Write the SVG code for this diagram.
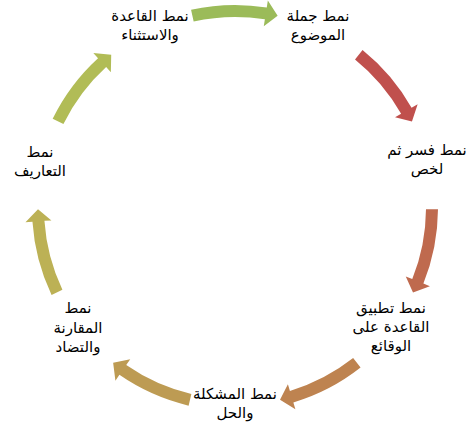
<svg xmlns="http://www.w3.org/2000/svg" xmlns:xlink="http://www.w3.org/1999/xlink" width="470" height="435" viewBox="0 0 470 435">
<style>
.t{font-family:"DejaVu Sans","Liberation Sans",sans-serif;font-size:15px;fill:#000;text-anchor:middle}
</style>
<defs>
<path id="arr" d="M191.06,9.81 A203,203 0 0 1 266.76,7.50 L267.85,0.59 L277.64,15.67 L263.78,26.27 L264.88,19.35 A191,191 0 0 0 193.66,21.53 Z"/>
</defs>
<rect width="470" height="435" fill="#fff"/>
<g id="connectors">
<use xlink:href="#arr" fill="#C0504D" transform="rotate(51.43 235 208)"/>
<use xlink:href="#arr" fill="#BF6A4E" transform="rotate(102.86 235 208)"/>
<use xlink:href="#arr" fill="#BE8350" transform="rotate(154.29 235 208)"/>
<use xlink:href="#arr" fill="#BD9B53" transform="rotate(205.71 235 208)"/>
<use xlink:href="#arr" fill="#BCB155" transform="rotate(257.14 235 208)"/>
<use xlink:href="#arr" fill="#B1BC56" transform="rotate(308.57 235 208)"/>
<use xlink:href="#arr" fill="#9BBB59"/>
</g>
<g id="node1"><text class="t"><tspan x="318" y="21">نمط جملة</tspan><tspan x="318" y="40">الموضوع</tspan></text></g>
<g id="node2"><text class="t"><tspan x="427" y="155">نمط فسر ثم</tspan><tspan x="427" y="174">لخص</tspan></text></g>
<g id="node3"><text class="t"><tspan x="391" y="313">نمط تطبيق</tspan><tspan x="391" y="332">القاعدة على</tspan><tspan x="391" y="351">الوقائع</tspan></text></g>
<g id="node4"><text class="t"><tspan x="235" y="399">نمط المشكلة</tspan><tspan x="235" y="418">والحل</tspan></text></g>
<g id="node5"><text class="t"><tspan x="78" y="313">نمط</tspan><tspan x="78" y="333">المقارنة</tspan><tspan x="78" y="352">والتضاد</tspan></text></g>
<g id="node6"><text class="t"><tspan x="40" y="157">نمط</tspan><tspan x="40" y="176">التعاريف</tspan></text></g>
<g id="node7"><text class="t"><tspan x="150" y="21">نمط القاعدة</tspan><tspan x="150" y="40">والاستثناء</tspan></text></g>
</svg>
